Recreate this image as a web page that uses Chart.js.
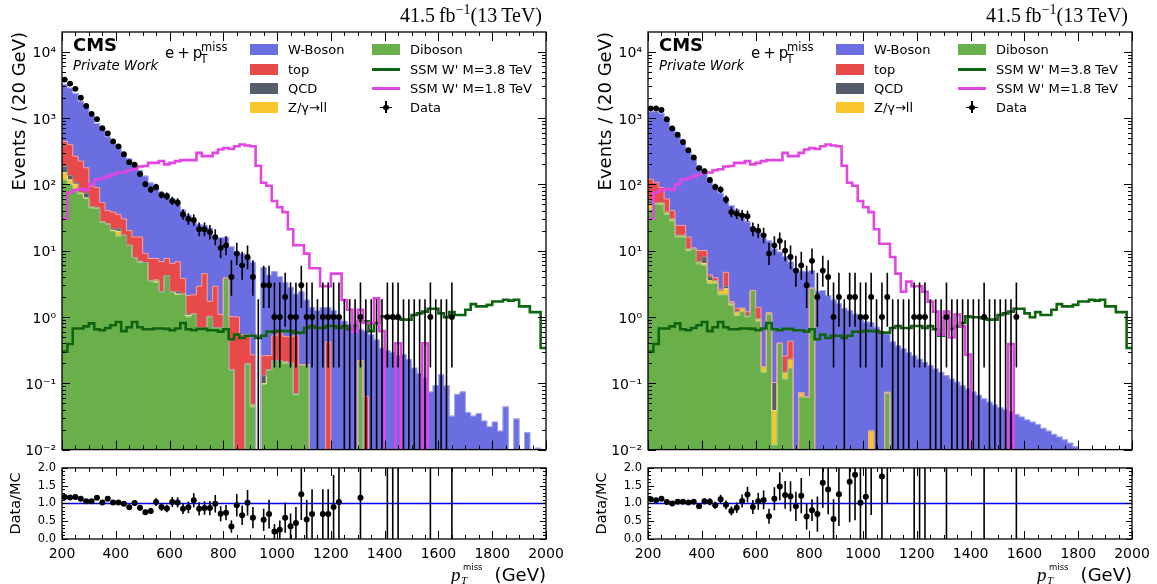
<!DOCTYPE html>
<html>
<head>
<meta charset="utf-8">
<script src="https://cdn.jsdelivr.net/npm/chart.js@4.4.1/dist/chart.umd.min.js"></script>
<style>
  html, body { margin: 0; padding: 0; background: #fff; }
  #fig { position: relative; width: 1157px; height: 584px; overflow: hidden; font-family: 'DejaVu Sans', sans-serif; color: #000; }
  .panel { position: absolute; top: 0; width: 571px; height: 584px; }
  .panel canvas { position: absolute; left: 0; }
  .t { position: absolute; white-space: nowrap; line-height: 1; }
  .sw { position: absolute; }
</style>
</head>
<body>
<div id="fig">
  <div class="panel" id="panelL" style="left:0px">
    <canvas id="mainL" width="571" height="464" style="top:0px"></canvas>
    <canvas id="ratioL" width="571" height="129" style="top:455px"></canvas>
  </div>
  <div class="panel" id="panelR" style="left:586px">
    <canvas id="mainR" width="571" height="464" style="top:0px"></canvas>
    <canvas id="ratioR" width="571" height="129" style="top:455px"></canvas>
  </div>
</div>
<script>
// binning: 20 GeV bins from 200 to 2000 GeV
const NBINS = 90;
const binEdges = Array.from({ length: NBINS + 1 }, (_, i) => 200 + 20 * i);
const binCenters = binEdges.slice(0, NBINS).map(e => e + 10);

const xTicks = [200, 400, 600, 800, 1000, 1200, 1400, 1600, 1800, 2000];
const yLogTicks = [1e-2, 1e-1, 1, 10, 100, 1000, 10000];
const ratioTicks = [0, 0.5, 1.0, 1.5, 2.0];
const yMin = 0.01, yMax = 1.97e4;

// ---- left panel (bins 0..89) ----
const wL = [2757, 2415, 2055, 1557, 1248, 991, 734, 627, 476, 392,
  327, 257, 222, 179, 146, 124, 97, 79, 69, 64,
  53.6, 45, 37, 32, 25, 22, 19.5, 20, 13, 14.4,
  12, 10.4, 8.5, 8.4, 7.25, 6.4, 0, 5.3, 4.0, 4.3,
  3.4, 2.8, 2.3, 1.68, 2.2, 1.6, 1.39, 1.24, 1.39, 0.97,
  1.24, 0.97, 0.86, 0.77, 0.77, 0.43, 0.55, 0.54, 0.45, 0.34,
  0.31, 0.29, 0.26, 0.27, 0.23, 0.17, 0.14, 0.12, 0.074, 0.092,
  0.135, 0.092, 0.032, 0.068, 0.074, 0.036, 0.032, 0.035, 0.027, 0.022,
  0.026, 0.019, 0.044, 0, 0.029, 0, 0.018, 0, 0.0105, 0];
const topL = [259, 260, 160, 147, 104, 48, 45, 26, 15, 17,
  13.7, 13, 8, 8.2, 9.1, 2.5, 4.1, 4, 4.4, 3.4,
  4, 4.4, 1.6, 1.0, 1.05, 2.2, 3.8, 0.7, 2.2, 0.4,
  0.1, 0.85, 1.0, 0.54, 0.35, 0.22, 0, 0.13, 0.1, 0.3,
  0.4, 0.3, 0.3, 0.45, 0, 0, 0, 0, 0, 0.42,
  0, 0, 0, 0, 0, 0, 0.063, 0, 0, 0,
  0, 0, 0, 0, 0, 0, 0, 0, 0, 0,
  0, 0, 0, 0, 0, 0, 0, 0, 0, 0,
  0, 0, 0, 0, 0, 0, 0, 0, 0, 0];
const qcdL = [35, 19, 5, 2, 11, 0, 0, 0, 0, 1,
  1.8, 0, 0, 0, 0, 0, 0, 0, 0, 0,
  0, 0.2, 0, 0.05, 0, 0, 0, 0, 0, 0,
  0, 0, 0, 0, 0, 0, 0, 0.032, 0, 0,
  0, 0, 0, 0, 0, 0, 0, 0, 0, 0,
  0, 0, 0, 0, 0, 0, 0, 0, 0, 0,
  0, 0, 0, 0, 0, 0, 0, 0, 0, 0,
  0, 0, 0, 0, 0, 0, 0, 0, 0, 0,
  0, 0, 0, 0, 0, 0, 0, 0, 0, 0];
const zllL = [33, 16, 16, 3, 1, 2, 1, 0, 0, 0,
  3, 0, 0, 0, 0.3, 0, 0, 0.3, 0, 0,
  0, 0, 0, 0.05, 0, 0, 0, 0.02, 0, 0,
  0, 0, 0, 0, 0, 0.004, 0, 0, 0, 0,
  0, 0.01, 0, 0.003, 0, 0, 0, 0, 0, 0,
  0, 0, 0, 0, 0, 0, 0, 0, 0, 0,
  0, 0, 0, 0, 0, 0, 0, 0, 0, 0,
  0, 0, 0, 0, 0, 0, 0, 0, 0, 0,
  0, 0, 0, 0, 0, 0, 0, 0, 0, 0];
const dibL = [116, 100, 84, 71, 61, 44, 43, 27, 25, 20,
  16.5, 17, 12, 7.8, 6.6, 6.6, 3.5, 3.3, 2.4, 4.2,
  2.4, 2.2, 2.2, 1.0, 1.1, 0.69, 0.69, 1.0, 0.69, 0.69,
  3.8, 0.16, 0, 0, 0.195, 0.044, 0, 0.098, 0.16, 0.22,
  0.22, 0.2, 0.2, 0.067, 0.19, 0.19, 0, 0, 0, 0,
  0, 0, 0, 0, 0, 0.22, 0, 0, 0, 0,
  0, 0, 0, 0, 0, 0, 0, 0, 0, 0,
  0, 0, 0, 0, 0, 0, 0, 0, 0, 0,
  0, 0, 0, 0, 0, 0, 0, 0, 0, 0];
const sig38L = [0.30, 0.39, 0.67, 0.67, 0.72, 0.80, 0.65, 0.63, 0.68, 0.75,
  0.84, 0.61, 0.70, 0.84, 0.70, 0.65, 0.65, 0.67, 0.67, 0.66,
  0.63, 0.67, 0.81, 0.65, 0.63, 0.66, 0.66, 0.63, 0.63, 0.60,
  0.65, 0.46, 0.54, 0.48, 0.52, 0.52, 0.48, 0.52, 0.60, 0.60,
  0.62, 0.61, 0.61, 0.58, 0.58, 0.68, 0.73, 0.68, 0.68, 0.73,
  0.73, 0.68, 0.73, 0.65, 0.73, 0.86, 0.86, 0.61, 0.81, 1.02,
  0.99, 0.99, 0.95, 0.91, 0.91, 1.07, 1.13, 1.20, 1.33, 1.33,
  1.13, 0.99, 1.18, 1.07, 1.07, 1.28, 1.56, 1.44, 1.44, 1.52,
  1.71, 1.71, 1.81, 1.76, 1.81, 1.44, 1.44, 1.18, 1.18, 0.34];
const sig18L = [30, 75, 82, 85, 82, 100, 118, 122, 130, 140,
  150, 150, 162, 168, 185, 188, 210, 210, 223, 199,
  210, 223, 231, 231, 231, 297, 265, 265, 297, 333,
  352, 340, 373, 396, 383, 373, 190, 105, 95, 56,
  45, 38, 21, 12, 12, 9, 5.4, 5.4, 2.9, 2.9,
  4.5, 4.5, 1.8, 1.28, 0.6, 1.28, 0.81, 0.81, 1.9, 0.61,
  0, 0, 0.4, 0, 0, 0, 0, 0.4, 0, 0,
  0, 0, 0, 0, 0, 0, 0, 0, 0, 0,
  0, 0, 0, 0, 0, 0, 0, 0, 0, 0];
const dataL = [3780, 3290, 2740, 2010, 1510, 1150, 955, 700, 583, 443,
  373, 284, 215, 197, 143, 100, 83, 91, 69, 66,
  56, 53, 35, 30, 29, 21, 21, 19, 16, 11,
  12, 4, 9, 6, 8, 4, 0, 3, 3, 1,
  1, 2, 1, 1, 3, 1, 1, 0, 1, 1,
  1, 1, 0, 0, 0, 1, 0, 0, 0, 0,
  1, 1, 1, 0, 0, 0, 0, 0, 1, 0,
  0, 0, 1];
const ratioL = [1.18, 1.17, 1.18, 1.13, 1.06, 1.06, 1.16, 1.03, 1.13, 1.03,
  1.03, 0.99, 0.89, 1.01, 0.88, 0.75, 0.79, 1.04, 0.90, 0.86,
  1.04, 1.03, 0.85, 0.89, 1.09, 0.85, 0.87, 0.87, 0.99, 0.71,
  0.74, 0.35, 0.95, 0.67, 1.02, 0.60, null, 0.54, 0.70, 0.21,
  0.26, 0.60, 0.36, 0.45, 1.26, 0.55, 0.70, null, 0.70, 0.70,
  0.90, 1.04, null, null, null, 1.16, null, null, null, null,
  3.3, 3.5, 3.8, null, null, null, null, null, 13, null,
  null, null, 31];

// ---- right panel (bins 0..89) ----
const wR = [1121, 1144, 1076, 858, 653, 506, 388, 299, 230, 180,
  139, 106, 92, 71, 56, 46, 40, 30.6, 25.8, 20.5,
  17.6, 15.3, 12.85, 10.5, 9.1, 7.84, 6.27, 5.4, 4.83, 4.74,
  2.3, 2.4, 2.5, 2.1, 1.8, 1.6, 1.35, 1.25, 1.1, 0.98,
  0.84, 0.8, 0.7, 0.6, 0.48, 0.42, 0.365, 0.33, 0.29, 0.26,
  0.23, 0.206, 0.184, 0.164, 0.146, 0.13, 0.116, 0.104, 0.092, 0.082,
  0.074, 0.066, 0.058, 0.052, 0.047, 0.043, 0.040, 0.037, 0.034, 0.031,
  0.028, 0.026, 0.024, 0.021, 0.019, 0.017, 0.0155, 0.014, 0.0125, 0.011,
  0, 0, 0, 0, 0, 0, 0, 0, 0, 0];
const topR = [63, 53, 36, 22, 10, 7, 7, 5.3, 0.5, 3.3,
  2, 0.3, 0.4, 0.1, 1.8, 0.08, 0.15, 0, 0.15, 0,
  0.45, 0, 0, 0, 0, 0.11, 0.2, 0, 0, 0,
  0, 0, 0, 0, 0, 0, 0, 0, 0, 0,
  0, 0, 0, 0, 0, 0, 0, 0, 0, 0,
  0, 0, 0, 0, 0, 0, 0, 0, 0, 0,
  0, 0, 0, 0, 0, 0, 0, 0, 0, 0,
  0, 0, 0, 0, 0, 0, 0, 0, 0, 0,
  0, 0, 0, 0, 0, 0, 0, 0, 0, 0];
const qcdR = [6, 0, 0, 0, 0, 0, 0, 0, 0, 0,
  1.6, 0.5, 0, 0, 0.25, 0, 0, 0, 0, 0,
  0, 0, 0, 0.064, 0, 0, 0, 0, 0, 0,
  0, 0, 0, 0, 0, 0, 0, 0, 0, 0,
  0, 0, 0, 0, 0, 0, 0, 0, 0, 0,
  0, 0, 0, 0, 0, 0, 0, 0, 0, 0,
  0, 0, 0, 0, 0, 0, 0, 0, 0, 0,
  0, 0, 0, 0, 0, 0, 0, 0, 0, 0,
  0, 0, 0, 0, 0, 0, 0, 0, 0, 0];
const zllR = [8, 3, 4, 3, 2, 1, 1, 0.7, 0, 0.4,
  0.4, 0.3, 0.3, 0.35, 0.5, 0.12, 0.15, 0.15, 0.05, 0,
  0.08, 0.032, 0.05, 0.027, 0, 0.03, 0.06, 0, 0.01, 0,
  0, 0, 0, 0, 0, 0, 0, 0, 0, 0,
  0, 0.019, 0, 0, 0.003, 0, 0, 0, 0, 0,
  0, 0, 0, 0, 0, 0, 0, 0, 0, 0,
  0, 0, 0, 0, 0, 0, 0, 0, 0, 0,
  0, 0, 0, 0, 0, 0, 0, 0, 0, 0,
  0, 0, 0, 0, 0, 0, 0, 0, 0, 0];
const dibR = [42, 50, 49, 35, 28, 16, 16, 10, 10.5, 6.3,
  6, 3.2, 3.2, 2.15, 2.15, 1.5, 1.05, 1.2, 1.0, 2.5,
  0.86, 0.146, 1.1, 0.0117, 0.4, 0.116, 0.17, 0, 0.062, 0.062,
  2.7, 0, 0, 0, 0, 0, 0, 0, 0, 0,
  0, 0, 0, 0, 0.07, 0, 0, 0, 0, 0,
  0, 0, 0, 0, 0, 0, 0, 0, 0, 0,
  0, 0, 0, 0, 0, 0, 0, 0, 0, 0,
  0, 0, 0, 0, 0, 0, 0, 0, 0, 0,
  0, 0, 0, 0, 0, 0, 0, 0, 0, 0];
const sig38R = [0.30, 0.39, 0.67, 0.67, 0.72, 0.80, 0.65, 0.63, 0.68, 0.75,
  0.84, 0.61, 0.70, 0.84, 0.70, 0.65, 0.65, 0.67, 0.67, 0.66,
  0.63, 0.67, 0.81, 0.65, 0.63, 0.66, 0.66, 0.63, 0.63, 0.60,
  0.65, 0.46, 0.54, 0.48, 0.52, 0.52, 0.48, 0.52, 0.60, 0.60,
  0.62, 0.61, 0.61, 0.58, 0.58, 0.68, 0.73, 0.68, 0.68, 0.73,
  0.73, 0.68, 0.73, 0.65, 0.52, 0.95, 0.66, 0.72, 0.81, 1.02,
  0.99, 0.99, 0.95, 0.91, 0.91, 1.07, 1.13, 1.20, 1.33, 1.33,
  1.13, 0.99, 1.18, 1.07, 1.07, 1.28, 1.56, 1.44, 1.44, 1.52,
  1.71, 1.71, 1.81, 1.76, 1.81, 1.44, 1.44, 1.18, 1.18, 0.34];
const sig18R = [30, 75, 82, 85, 82, 100, 118, 122, 130, 140,
  150, 150, 162, 168, 185, 188, 210, 210, 223, 199,
  210, 223, 231, 231, 231, 297, 265, 265, 297, 333,
  352, 340, 373, 396, 383, 373, 190, 105, 95, 56,
  45, 38, 21, 12.7, 12.7, 8, 4.5, 2.4, 3.4, 2.9,
  2.9, 2.4, 1.7, 1.2, 0.54, 1.2, 0.49, 1.09, 0.72, 0.27,
  0, 0, 0, 0, 0, 0, 0, 0.39, 0, 0,
  0, 0, 0, 0, 0, 0, 0, 0, 0, 0,
  0, 0, 0, 0, 0, 0, 0, 0, 0, 0];
const dataR = [1393, 1393, 1315, 955, 693, 557, 433, 325, 253, 175,
  158, 116, 91, 83, 59, 38, 36, 34, 33, 21,
  20, 17, 9, 12, 14, 10, 8, 5, 6, 3,
  7, 2, 5, 4, 1, 2, 0, 2, 2, 1,
  1, 2, 0, 1, 2, 0, 0, 0, 0, 1,
  1, 1, 0, 0, 0, 1, 0, 0, 0, 0,
  0, 0, 1, 0, 0, 0, 0, 0, 1];
const ratioR = [1.12, 1.09, 1.13, 1.04, 1.00, 1.05, 1.05, 1.03, 1.05, 0.92,
  1.06, 1.05, 0.95, 1.12, 0.96, 0.79, 0.88, 1.07, 1.25, 0.90,
  1.06, 1.10, 0.64, 1.13, 1.48, 1.24, 1.20, 0.92, 1.22, 0.63,
  0.81, 0.70, 1.58, 1.39, 0.56, 1.26, null, 1.61, 1.81, 1.02,
  1.19, 2.3, null, 1.76, 3.4, null, null, null, null, 4.0,
  4.5, 5.0, null, null, null, 8.0, null, null, null, null,
  null, null, 17, null, null, null, null, null, 30];

const colors = {
  w: '#6a6ee0', top: '#e84a4a', qcd: '#565d6b', zll: '#f7c62a', dib: '#69b04b',
  sig38: '#0f640f', sig18: '#e246e0', data: '#000000', unity: '#0000ff'
};
const stackLabels = ['Diboson', 'Z/γ→ll', 'QCD', 'top', 'W-Boson'];
const stackColors = [colors.dib, colors.zll, colors.qcd, colors.top, colors.w];
const stackEdges = ['#a6d391', '#fadf83', '#90959f', '#f3a3a3', '#a4a7ef'];

const FONT = "'DejaVu Sans', sans-serif";
Chart.defaults.font.family = FONT;
Chart.defaults.color = '#000';

// 68% Poisson (Garwood) intervals for small counts
const garwood = [[0, 1.841], [0.173, 3.300], [0.708, 4.638], [1.367, 5.918], [2.086, 7.163],
  [2.840, 8.382], [3.620, 9.584], [4.419, 10.77], [5.232, 11.95], [6.057, 13.11], [6.891, 14.27]];
function poisson(n) {
  if (n <= 10) return garwood[n];
  const s = Math.sqrt(n);
  return [n - s, n + s + 1];
}

const SUP = { '-': '⁻', '0': '⁰', '1': '¹', '2': '²', '3': '³', '4': '⁴', '5': '⁵', '6': '⁶', '7': '⁷', '8': '⁸', '9': '⁹' };
function powLabel(v) {
  const e = Math.round(Math.log10(v));
  return '10' + String(e).split('').map(c => SUP[c]).join('');
}

// error bars, frame and inward ticks
const hepPlugin = {
  id: 'hepDecor',
  afterDatasetsDraw(chart) {
    const cfg = chart.canvas._hep;
    if (!cfg) return;
    const { ctx, chartArea: a, scales: { x, y } } = chart;
    const py = v => (cfg.log && v <= 0) ? a.bottom + 10 : y.getPixelForValue(v);
    ctx.save();
    ctx.beginPath();
    ctx.rect(a.left, a.top, a.right - a.left, a.bottom - a.top);
    ctx.clip();
    ctx.strokeStyle = '#000';
    ctx.lineWidth = 1.6;
    cfg.bars.forEach(b => {
      const px = x.getPixelForValue(b.x);
      ctx.beginPath(); ctx.moveTo(px, py(b.lo)); ctx.lineTo(px, py(b.hi)); ctx.stroke();
      if (b.xw) {
        const yy = py(b.y);
        ctx.beginPath();
        ctx.moveTo(x.getPixelForValue(b.x - b.xw), yy);
        ctx.lineTo(x.getPixelForValue(b.x + b.xw), yy);
        ctx.stroke();
      }
    });
    ctx.restore();

    ctx.save();
    ctx.strokeStyle = '#000';
    ctx.lineWidth = 1;
    const seg = (x0, y0, x1, y1) => { ctx.beginPath(); ctx.moveTo(x0, y0); ctx.lineTo(x1, y1); ctx.stroke(); };
    for (let v = xTicks[0]; v <= xTicks[xTicks.length - 1]; v += 50) {
      const px = Math.round(x.getPixelForValue(v)) + 0.5;
      const L = xTicks.includes(v) ? cfg.xMajor : cfg.xMinor;
      seg(px, a.bottom, px, a.bottom - L);
      seg(px, a.top, px, a.top + L);
    }
    cfg.yTicks.forEach(([v, major]) => {
      const p = Math.round(y.getPixelForValue(v)) + 0.5;
      const L = major ? cfg.yMajor : cfg.yMinor;
      seg(a.left, p, a.left + L, p);
      seg(a.right, p, a.right - L, p);
    });
    ctx.lineWidth = 1.3;
    ctx.strokeRect(a.left, a.top, a.right - a.left, a.bottom - a.top);
    ctx.restore();
  }
};

function stepPoints(vals) {
  let last = -1;
  vals.forEach((v, i) => { if (v > 0) last = i; });
  const pts = [];
  const end = Math.min(last + 1, NBINS - 1);
  for (let i = 0; i <= end; i++) pts.push({ x: binEdges[i], y: vals[i] > 0 ? vals[i] : yMin / 10 });
  if (last === NBINS - 1) pts.push({ x: binEdges[NBINS], y: vals[NBINS - 1] });
  return pts;
}

function buildMain(id, p) {
  const canvas = document.getElementById(id);
  const layers = [p.dib, p.zll, p.qcd, p.top, p.w];
  const cum = [];
  let run = binCenters.map(() => 0);
  layers.forEach(l => { run = run.map((v, i) => v + l[i]); cum.push(run); });

  const datasets = layers.map((l, k) => ({
    type: 'bar', label: stackLabels[k],
    data: binCenters.map((x, i) => ({ x, y: cum[k][i] })),
    backgroundColor: stackColors[k], borderWidth: 0,
    barPercentage: 1, categoryPercentage: 1, grouped: false, order: 10 + k
  }));
  // light step outlines on the stacked layers
  layers.forEach((l, k) => {
    if (!l.some(v => v > 0)) return;
    datasets.push({
      type: 'line', label: stackLabels[k] + ' edge', data: stepPoints(cum[k]), stepped: 'before',
      borderColor: stackEdges[k], borderWidth: 1, pointRadius: 0, fill: false, order: 9 - k * 0.1
    });
  });
  datasets.push({
    type: 'line', label: "SSM W' M=3.8 TeV", data: stepPoints(p.sig38), stepped: 'before',
    borderColor: colors.sig38, borderWidth: 2.6, pointRadius: 0, fill: false, order: 3
  });
  datasets.push({
    type: 'line', label: "SSM W' M=1.8 TeV", data: stepPoints(p.sig18), stepped: 'before',
    borderColor: colors.sig18, borderWidth: 2.6, pointRadius: 0, fill: false, order: 2
  });
  datasets.push({
    type: 'line', label: 'Data', showLine: false, order: 0,
    data: p.data.map((n, i) => n > 0 ? { x: binCenters[i], y: n } : null).filter(Boolean),
    pointRadius: 2.9, pointBackgroundColor: colors.data, pointBorderWidth: 0, borderColor: colors.data
  });

  const yt = [];
  for (let e = -2; e <= 4; e++) for (let m = 1; m <= 9; m++) {
    const v = m * Math.pow(10, e);
    if (v <= yMax) yt.push([v, m === 1]);
  }
  canvas._hep = {
    log: true, xMajor: 9, xMinor: 4, yMajor: 8, yMinor: 4, yTicks: yt,
    bars: p.data.map((n, i) => {
      const [lo, hi] = poisson(n);
      return { x: binCenters[i], y: n, lo, hi, xw: n > 0 ? 10 : 0 };
    })
  };

  return new Chart(canvas, {
    type: 'bar',
    data: { datasets },
    options: {
      responsive: false, animation: false, devicePixelRatio: 1,
      layout: { padding: { left: 0, right: 25, top: 32, bottom: 0 } },
      plugins: { legend: { display: false }, tooltip: { enabled: false } },
      scales: {
        x: {
          type: 'linear', min: 200, max: 2000, offset: false,
          grid: { display: false, drawTicks: false }, border: { display: false },
          ticks: { display: false },
          afterFit: s => { s.height = 10; }
        },
        y: {
          type: 'logarithmic', min: yMin, max: yMax,
          grid: { display: false, drawTicks: false }, border: { display: false },
          afterBuildTicks: s => { s.ticks = yLogTicks.map(v => ({ value: v })); },
          ticks: { callback: v => powLabel(v), font: { size: 14 }, color: '#000', padding: 6, labelOffset: 2, autoSkip: false },
          title: { display: true, text: 'Events / (20 GeV)', align: 'end', color: '#000',
                   font: { size: 18 }, padding: { top: 10, bottom: 0 } },
          afterFit: s => { s.width = 62; }
        }
      }
    },
    plugins: [hepPlugin]
  });
}

function buildRatio(id, counts, ratio) {
  const canvas = document.getElementById(id);
  const pts = [], bars = [];
  ratio.forEach((r, i) => {
    if (r === null) return;
    const e = r / Math.sqrt(counts[i]);
    pts.push({ x: binCenters[i], y: r });
    bars.push({ x: binCenters[i], y: r, lo: r - e, hi: r + e, xw: 0 });
  });
  const yt = [];
  for (let k = 0; k <= 20; k++) yt.push([k / 10, k % 5 === 0]);
  canvas._hep = { log: false, xMajor: 8, xMinor: 4, yMajor: 6, yMinor: 3, yTicks: yt, bars };

  return new Chart(canvas, {
    type: 'line',
    data: {
      datasets: [
        { label: 'unity', data: [{ x: 200, y: 1 }, { x: 2000, y: 1 }], borderColor: colors.unity,
          borderWidth: 1.5, pointRadius: 0, order: 2 },
        { label: 'Data/MC', data: pts, showLine: false, pointRadius: 3,
          pointBackgroundColor: '#000', pointBorderWidth: 0, borderColor: '#000', order: 0 }
      ]
    },
    options: {
      responsive: false, animation: false, devicePixelRatio: 1,
      layout: { padding: { left: 0, right: 25, top: 10, bottom: 0 } },
      plugins: { legend: { display: false }, tooltip: { enabled: false } },
      scales: {
        x: {
          type: 'linear', min: 200, max: 2000, offset: false,
          grid: { display: false, drawTicks: false }, border: { display: false },
          afterBuildTicks: s => { s.ticks = xTicks.map(v => ({ value: v })); },
          ticks: { callback: v => String(v), font: { size: 14 }, color: '#000', padding: 7, maxRotation: 0, autoSkip: false },
          afterFit: s => { s.height = 45; }
        },
        y: {
          type: 'linear', min: 0, max: 2,
          grid: { display: false, drawTicks: false }, border: { display: false },
          afterBuildTicks: s => { s.ticks = ratioTicks.map(v => ({ value: v })); },
          ticks: { callback: v => v.toFixed(1), font: { size: 11.5 }, color: '#000', padding: 6, autoSkip: false },
          title: { display: true, text: 'Data/MC', align: 'center', color: '#000',
                   font: { size: 14.5 }, padding: { top: 8, bottom: 0 } },
          afterFit: s => { s.width = 62; }
        }
      }
    },
    plugins: [hepPlugin]
  });
}

// ---- text overlays ----
const ASC = { sans: 0.846, serif: 0.8375 };
function textAt(panel, html, pos, base, size, fam, extra) {
  const d = document.createElement('div');
  d.className = 't';
  d.innerHTML = html;
  const css = Object.assign({ top: (base - ASC[fam || 'sans'] * size) + 'px', fontSize: size + 'px' }, extra || {});
  if (pos.left !== undefined) css.left = pos.left + 'px';
  if (pos.right !== undefined) css.right = pos.right + 'px';
  Object.assign(d.style, css);
  panel.appendChild(d);
  return d;
}
function box(panel, l, t, w, h, bg, extra) {
  const d = document.createElement('div');
  d.className = 'sw';
  Object.assign(d.style, { left: l + 'px', top: t + 'px', width: w + 'px', height: h + 'px', background: bg }, extra || {});
  panel.appendChild(d);
}

const legendRows = [49.3, 69.3, 88.3, 107.3];
const legendCols = [
  { sw: 250, tx: 288, items: [['W-Boson', 'fill', colors.w], ['top', 'fill', colors.top], ['QCD', 'fill', colors.qcd], ['Z/γ→ll', 'fill', colors.zll]] },
  { sw: 372, tx: 410, items: [['Diboson', 'fill', colors.dib], ["SSM W' M=3.8 TeV", 'line', colors.sig38], ["SSM W' M=1.8 TeV", 'line', colors.sig18], ['Data', 'data', colors.data]] }
];

function decorate(panel) {
  const serif = "'Liberation Serif', 'DejaVu Serif', serif";
  textAt(panel, '41.5&thinsp;fb<span style="font-size:14px;position:relative;top:-8px">−1</span>(13&thinsp;TeV)',
    { right: 29 }, 22, 20, 'serif', { fontFamily: serif });
  textAt(panel, 'CMS', { left: 73 }, 51.5, 18, 'sans', { fontWeight: 'bold' });
  textAt(panel, 'Private Work', { left: 73 }, 70, 13.3, 'sans', { fontStyle: 'italic' });
  textAt(panel, 'e&thinsp;+&thinsp;p', { left: 165 }, 58.7, 15);
  textAt(panel, 'miss', { left: 201 }, 52, 11.5);
  textAt(panel, 'T', { left: 200.5 }, 63.3, 11.5);

  legendCols.forEach(col => {
    col.items.forEach(([label, kind, color], r) => {
      const yc = legendRows[r];
      if (kind === 'fill') box(panel, col.sw, yc - 5.5, 28, 11, color);
      else if (kind === 'line') box(panel, col.sw, yc - 1.5, 28, 3, color);
      else {
        box(panel, col.sw + 8, yc - 0.8, 12, 1.6, color);
        box(panel, col.sw + 13.2, yc - 6, 1.6, 12, color);
        box(panel, col.sw + 11.3, yc - 2.7, 5.4, 5.4, color, { borderRadius: '50%' });
      }
      textAt(panel, label, { left: col.tx }, yc + 5, 13);
    });
  });

  // x axis label: p_T^miss (GeV)
  textAt(panel, 'p', { left: 451 }, 580.5, 19, 'serif', { fontFamily: serif, fontStyle: 'italic' });
  textAt(panel, 'miss', { left: 463 }, 570, 8.5);
  textAt(panel, 'T', { left: 461 }, 584, 11, 'serif', { fontFamily: serif, fontStyle: 'italic' });
  textAt(panel, '(GeV)', { right: 25 }, 581, 18);
}

buildMain('mainL', { w: wL, top: topL, qcd: qcdL, zll: zllL, dib: dibL, sig38: sig38L, sig18: sig18L, data: dataL });
buildRatio('ratioL', dataL, ratioL);
buildMain('mainR', { w: wR, top: topR, qcd: qcdR, zll: zllR, dib: dibR, sig38: sig38R, sig18: sig18R, data: dataR });
buildRatio('ratioR', dataR, ratioR);
decorate(document.getElementById('panelL'));
decorate(document.getElementById('panelR'));
</script>
</body>
</html>
